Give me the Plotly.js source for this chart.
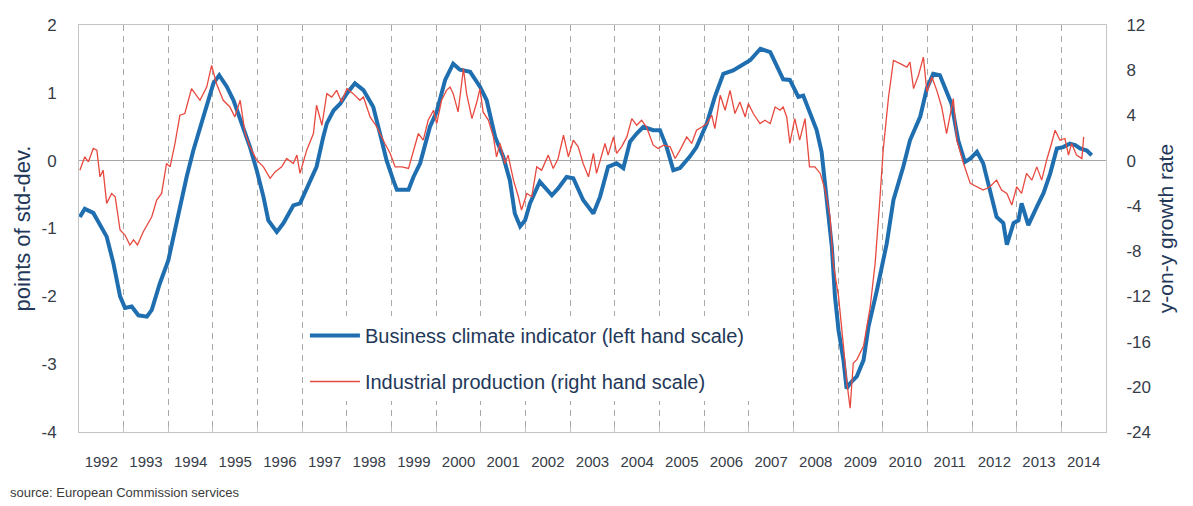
<!DOCTYPE html>
<html>
<head>
<meta charset="utf-8">
<script src="https://cdn.plot.ly/plotly-3.0.1.min.js"></script>
<style>
  html, body { margin: 0; padding: 0; background: #ffffff; }
  #chart { width: 1193px; height: 506px; }
</style>
</head>
<body>
<div id="chart"></div>
<script>
// ---- Data ----
// Business climate indicator (points of std-dev.), left scale
const bciDates = [
  1992.02, 1992.13, 1992.32, 1992.62, 1992.77, 1992.92, 1993.03, 1993.18, 1993.33, 1993.52,
  1993.63, 1993.81, 1994.00, 1994.19, 1994.41, 1994.56, 1994.78, 1995.01, 1995.14, 1995.31,
  1995.46, 1995.64, 1995.83, 1995.98, 1996.13, 1996.24, 1996.43, 1996.58, 1996.80, 1996.95,
  1997.14, 1997.32, 1997.47, 1997.55, 1997.70, 1997.85, 1998.00, 1998.18, 1998.37, 1998.59,
  1998.74, 1998.89, 1999.04, 1999.12, 1999.38, 1999.49, 1999.64, 1999.86, 2000.01, 2000.20,
  2000.38, 2000.53, 2000.76, 2000.98, 2001.13, 2001.32, 2001.50, 2001.65, 2001.76, 2001.88,
  2001.99, 2002.10, 2002.32, 2002.59, 2002.73, 2002.92, 2003.07, 2003.29, 2003.52, 2003.67,
  2003.85, 2004.04, 2004.19, 2004.34, 2004.49, 2004.64, 2004.86, 2005.01, 2005.16, 2005.31,
  2005.46, 2005.68, 2005.83, 2006.06, 2006.24, 2006.43, 2006.65, 2006.88, 2007.03, 2007.26,
  2007.48, 2007.59, 2007.77, 2007.92, 2008.11, 2008.22, 2008.37, 2008.52, 2008.63, 2008.74,
  2008.86, 2008.93, 2009.01, 2009.12, 2009.19, 2009.27, 2009.42, 2009.57, 2009.68, 2009.87,
  2010.09, 2010.24, 2010.46, 2010.61, 2010.84, 2010.99, 2011.13, 2011.28, 2011.43, 2011.54,
  2011.69, 2011.84, 2011.96, 2012.11, 2012.25, 2012.40, 2012.55, 2012.70, 2012.78, 2012.93,
  2013.04, 2013.11, 2013.26, 2013.45, 2013.60, 2013.75, 2013.90, 2014.04, 2014.19, 2014.31,
  2014.42, 2014.57, 2014.68
];
const bciValues = [
  -0.83, -0.71, -0.77, -1.12, -1.51, -2.00, -2.17, -2.15, -2.28, -2.30,
  -2.20, -1.81, -1.47, -0.88, -0.24, 0.15, 0.65, 1.14, 1.26, 1.09,
  0.89, 0.55, 0.20, -0.14, -0.53, -0.88, -1.05, -0.92, -0.66, -0.63,
  -0.34, -0.09, 0.35, 0.55, 0.74, 0.84, 0.99, 1.14, 1.04, 0.79,
  0.40, 0.00, -0.29, -0.43, -0.43, -0.24, -0.04, 0.50, 0.72, 1.19,
  1.43, 1.34, 1.31, 1.09, 0.89, 0.35, 0.06, -0.29, -0.78, -0.97,
  -0.88, -0.63, -0.31, -0.51, -0.41, -0.24, -0.26, -0.58, -0.78, -0.53,
  -0.09, -0.04, -0.11, 0.28, 0.40, 0.50, 0.45, 0.45, 0.20, -0.14,
  -0.11, 0.06, 0.20, 0.55, 0.94, 1.28, 1.33, 1.43, 1.48, 1.65,
  1.60, 1.45, 1.20, 1.19, 0.94, 0.96, 0.72, 0.45, 0.13, -0.53,
  -1.27, -2.00, -2.50, -2.94, -3.36, -3.28, -3.18, -2.94, -2.45, -1.91,
  -1.22, -0.58, -0.09, 0.30, 0.65, 1.07, 1.28, 1.26, 1.02, 0.84,
  0.30, -0.02, 0.03, 0.13, -0.04, -0.43, -0.83, -0.92, -1.24, -0.92,
  -0.88, -0.63, -0.95, -0.68, -0.48, -0.19, 0.18, 0.20, 0.25, 0.23,
  0.18, 0.15, 0.08
];

// Industrial production (y-on-y growth rate, %), right scale
const ipDates = [
  1992.02, 1992.13, 1992.21, 1992.32, 1992.40, 1992.47, 1992.54, 1992.62, 1992.73, 1992.81,
  1992.92, 1993.03, 1993.14, 1993.22, 1993.31, 1993.44, 1993.63, 1993.74, 1993.85, 1993.96,
  1994.04, 1994.15, 1994.26, 1994.37, 1994.52, 1994.71, 1994.86, 1994.97, 1995.08, 1995.23,
  1995.38, 1995.49, 1995.61, 1995.72, 1995.83, 1995.98, 1996.13, 1996.28, 1996.39, 1996.54,
  1996.65, 1996.80, 1996.88, 1996.95, 1997.10, 1997.25, 1997.32, 1997.44, 1997.55, 1997.66,
  1997.77, 1997.88, 1998.00, 1998.14, 1998.29, 1998.37, 1998.52, 1998.67, 1998.85, 1998.97,
  1999.08, 1999.23, 1999.38, 1999.49, 1999.60, 1999.71, 1999.82, 1999.94, 2000.01, 2000.12,
  2000.23, 2000.31, 2000.38, 2000.49, 2000.61, 2000.68, 2000.80, 2000.91, 2000.98, 2001.05,
  2001.17, 2001.28, 2001.35, 2001.43, 2001.54, 2001.61, 2001.73, 2001.84, 2001.91, 2002.03,
  2002.14, 2002.25, 2002.36, 2002.51, 2002.62, 2002.73, 2002.85, 2002.96, 2003.07, 2003.18,
  2003.29, 2003.41, 2003.52, 2003.59, 2003.71, 2003.78, 2003.85, 2003.97, 2004.04, 2004.15,
  2004.27, 2004.38, 2004.49, 2004.60, 2004.71, 2004.86, 2004.97, 2005.09, 2005.24, 2005.35,
  2005.46, 2005.61, 2005.72, 2005.83, 2005.95, 2006.06, 2006.17, 2006.24, 2006.36, 2006.47,
  2006.58, 2006.69, 2006.80, 2006.92, 2006.99, 2007.10, 2007.25, 2007.36, 2007.48, 2007.59,
  2007.70, 2007.77, 2007.85, 2007.92, 2008.03, 2008.14, 2008.26, 2008.36, 2008.48, 2008.60,
  2008.71, 2008.82, 2008.89, 2009.01, 2009.12, 2009.19, 2009.27, 2009.34, 2009.42, 2009.57,
  2009.72, 2009.83, 2009.94, 2010.01, 2010.13, 2010.24, 2010.39, 2010.54, 2010.61, 2010.69,
  2010.80, 2010.91, 2010.99, 2011.10, 2011.21, 2011.32, 2011.43, 2011.51, 2011.58, 2011.66,
  2011.81, 2011.96, 2012.11, 2012.25, 2012.40, 2012.55, 2012.66, 2012.78, 2012.89, 2013.00,
  2013.11, 2013.22, 2013.34, 2013.45, 2013.56, 2013.67, 2013.78, 2013.86, 2013.97, 2014.08,
  2014.16, 2014.23, 2014.34, 2014.46, 2014.50
];
const ipValues = [
  -0.84, 0.34, -0.10, 1.08, 0.93, -1.43, -0.84, -3.78, -2.90, -3.19,
  -6.13, -6.58, -7.46, -7.00, -7.46, -6.28, -4.96, -3.49, -2.90, -0.25,
  -0.55, 1.52, 4.02, 4.17, 6.37, 5.34, 6.51, 8.43, 6.81, 5.34,
  4.75, 3.87, 5.34, 2.40, 1.22, 0.04, -0.55, -1.57, -0.99, -0.55,
  0.19, -0.25, 0.49, -1.13, 0.93, 2.40, 4.90, 3.13, 5.93, 5.63,
  6.22, 5.19, 6.37, 5.93, 5.34, 5.63, 3.87, 2.98, 1.52, 0.64,
  -0.55, -0.55, -0.69, 0.93, 2.40, 1.81, 3.57, 4.46, 3.28, 5.34,
  6.22, 6.51, 5.93, 4.31, 8.14, 5.93, 3.72, 5.19, 6.37, 4.31,
  3.57, 2.10, 0.34, 1.52, -0.25, 0.49, -1.72, -3.19, -4.37, -2.90,
  -3.19, -0.55, -0.84, 0.49, -0.69, 0.19, 2.25, 0.34, 1.81, 1.22,
  -0.25, -1.43, 0.64, -1.13, 0.64, 1.52, 0.49, 2.10, 0.64, 1.22,
  2.10, 3.72, 3.13, 3.57, 2.98, 1.37, 1.08, 1.37, 1.22, 0.19,
  0.93, 2.10, 1.52, 2.69, 2.98, 3.28, 4.02, 2.84, 5.78, 4.46,
  6.22, 4.17, 5.19, 3.87, 5.05, 4.17, 3.28, 3.57, 3.28, 4.75,
  4.46, 4.75, 3.87, 1.52, 3.72, 1.81, 3.72, -0.55, -0.55, -1.13,
  -2.60, -4.96, -9.07, -12.0, -16.4, -19.4, -21.9, -17.9, -17.6, -16.4,
  -12.9, -9.07, -3.19, 0.93, 5.63, 8.87, 8.58, 8.28, 8.72, 6.37,
  7.55, 9.16, 6.07, 7.40, 6.22, 4.75, 2.40, 4.17, 5.49, 1.81,
  -0.25, -2.01, -2.31, -2.60, -2.31, -1.72, -2.60, -2.90, -3.93, -2.31,
  -2.90, -1.13, -1.72, -0.55, -1.72, 0.04, 1.52, 2.69, 1.81, 1.96,
  0.49, 1.52, 0.49, 0.19, 2.10
];

const yearLabels = ['1992','1993','1994','1995','1996','1997','1998','1999','2000','2001','2002','2003',
                    '2004','2005','2006','2007','2008','2009','2010','2011','2012','2013','2014'];
const leftTicks = [2, 1, 0, -1, -2, -3, -4];
const leftTickLabels = ['2', '1', '0', '-1', '-2', '-3', '-4'];
const rightTicks = [12, 8, 4, 0, -4, -8, -12, -16, -20, -24];
const rightTickLabels = ['12', '8', '4', '0', '-4', '-8', '-12', '-16', '-20', '-24'];

const seriesNames = ['Business climate indicator (left hand scale)', 'Industrial production (right hand scale)'];
const leftTitle = 'points of std-dev.';
const rightTitle = 'y-on-y growth rate';
const sourceText = 'source: European Commission services';

// ---- Build ----
const firstYear = parseInt(yearLabels[0], 10);
const lastYear = parseInt(yearLabels[yearLabels.length - 1], 10);
const labelPos = yearLabels.map(y => parseInt(y, 10) + 0.5);
const yearBounds = yearLabels.slice(1).map(y => parseInt(y, 10));

const textColor = '#363c48';
const titleColor = '#233859';
const fontFam = 'Arial, "Liberation Sans", sans-serif';

const traces = [
  {
    x: ipDates, y: ipValues, yaxis: 'y2', type: 'scatter', mode: 'lines',
    name: seriesNames[1], legendgroup: 'b', legendrank: 2,
    line: { color: '#e8493f', width: 1.3 }
  },
  {
    x: bciDates, y: bciValues, yaxis: 'y', type: 'scatter', mode: 'lines',
    name: seriesNames[0], legendgroup: 'a', legendrank: 1,
    line: { color: '#1f6fb0', width: 4 }
  }
];

const layout = {
  width: 1193, height: 506,
  margin: { l: 79, r: 87, t: 25, b: 74 },
  paper_bgcolor: '#ffffff', plot_bgcolor: '#ffffff',
  font: { family: fontFam, color: textColor },
  showlegend: true,
  legend: {
    x: 0.22, y: 0.285, xanchor: 'left', yanchor: 'top',
    bgcolor: '#ffffff', borderwidth: 0,
    font: { size: 20, color: titleColor, family: fontFam },
    itemwidth: 50, tracegroupgap: 17, traceorder: 'grouped'
  },
  xaxis: {
    type: 'linear', range: [firstYear, lastYear + 1],
    tickmode: 'array', tickvals: labelPos, ticktext: yearLabels,
    ticks: '', showgrid: false, zeroline: false,
    showline: true, mirror: true, linecolor: '#c4c4c4', linewidth: 1,
    tickfont: { size: 15, color: textColor },
    ticklabelstandoff: 16,
    minor: {
      tickmode: 'array', tickvals: yearBounds,
      showgrid: true, gridcolor: '#a9a9a9', gridwidth: 1, griddash: '6px,5px',
      ticks: 'inside', ticklen: 5, tickcolor: '#c4c4c4', tickwidth: 1
    }
  },
  yaxis: {
    range: [-4, 2], tickmode: 'array', tickvals: leftTicks, ticktext: leftTickLabels,
    showgrid: false, zeroline: true, zerolinecolor: '#a6a6a6', zerolinewidth: 1,
    showline: true, linecolor: '#c4c4c4', linewidth: 1, ticks: '',
    tickfont: { size: 17, color: textColor },
    ticklabelstandoff: 18,
    title: { text: leftTitle, font: { size: 22, color: titleColor }, standoff: 4 }
  },
  yaxis2: {
    overlaying: 'y', side: 'right',
    range: [-24, 12], tickmode: 'array', tickvals: rightTicks, ticktext: rightTickLabels,
    showgrid: false, zeroline: false,
    showline: true, linecolor: '#c4c4c4', linewidth: 1, ticks: '',
    tickfont: { size: 17, color: textColor },
    ticklabelstandoff: 16,
    title: { text: rightTitle, font: { size: 21, color: titleColor }, standoff: 8 }
  },
  annotations: [
    {
      text: sourceText, xref: 'paper', yref: 'paper',
      x: -0.069, y: -0.148, xanchor: 'left', yanchor: 'middle',
      showarrow: false, font: { size: 13, color: '#3a3a3a' }
    }
  ]
};

Plotly.newPlot('chart', traces, layout, { displayModeBar: false, staticPlot: true });
</script>
</body>
</html>
